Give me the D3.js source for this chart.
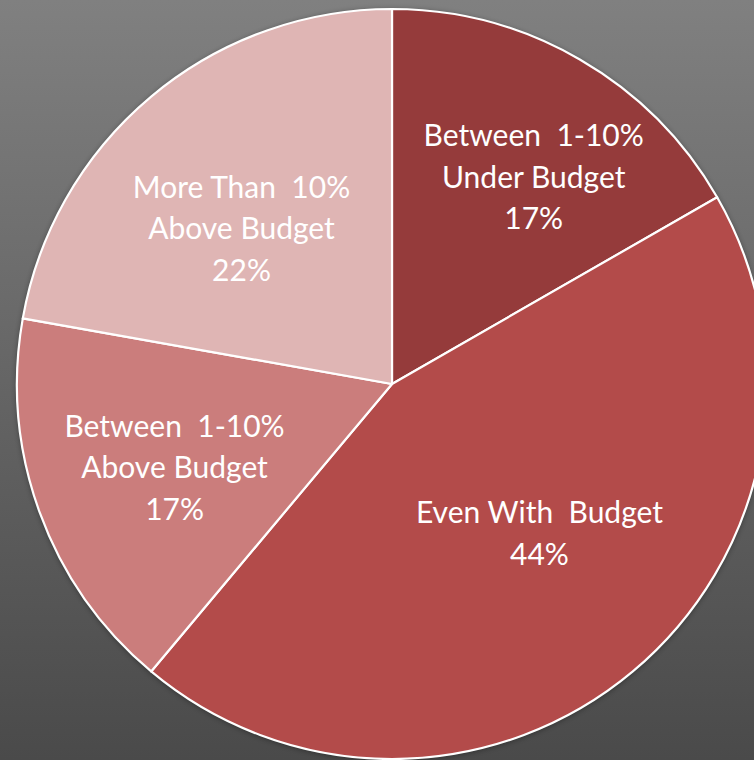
<!DOCTYPE html>
<html>
<head>
<meta charset="utf-8">
<script src="https://cdn.jsdelivr.net/npm/d3@7"></script>
<style>
  html, body { margin: 0; padding: 0; background: #666; }
  svg { display: block; }
</style>
</head>
<body>
<svg id="chart" width="754" height="760"></svg>
<script>
// Budget outcome shares (percent), clockwise from 12 o'clock
const categories = [
  ["Between  1-10%", "Under Budget"],
  ["Even With  Budget"],
  ["Between  1-10%", "Above Budget"],
  ["More Than  10%", "Above Budget"]
];
const shares = [16.7, 44.4, 16.7, 22.2];
const sliceColors = ["#953b3b", "#b34b4a", "#cb7d7c", "#dfb5b4"];

// fine placement of each label block relative to its slice centroid
const labelNudge = [[29, -12], [3, -23], [-6, 7], [-6, 17]];

const W = 754, H = 760;
const cx = 392, cy = 384, R = 375;

const svg = d3.select("#chart");
const defs = svg.append("defs");

const bg = defs.append("linearGradient")
  .attr("id", "bg").attr("x1", 0).attr("y1", 0).attr("x2", 0).attr("y2", 1);
bg.append("stop").attr("offset", "0%").attr("stop-color", "#808080");
bg.append("stop").attr("offset", "100%").attr("stop-color", "#4a4a4a");

const shadow = defs.append("filter").attr("id", "shadow")
  .attr("x", "-10%").attr("y", "-10%").attr("width", "120%").attr("height", "120%");
shadow.append("feDropShadow")
  .attr("dx", 0).attr("dy", 1).attr("stdDeviation", 3)
  .attr("flood-color", "#000").attr("flood-opacity", 0.45);

svg.append("rect").attr("width", W).attr("height", H).attr("fill", "url(#bg)");

const pie = d3.pie().sort(null).value(d => d);
const arcs = pie(shares);
const arc = d3.arc().innerRadius(0).outerRadius(R);
const labelArc = d3.arc().innerRadius(R * 0.6).outerRadius(R * 0.6);

const g = svg.append("g").attr("transform", `translate(${cx},${cy})`);

g.append("circle").attr("r", R).attr("fill", "#b34b4a").attr("filter", "url(#shadow)");

g.selectAll("path.slice")
  .data(arcs)
  .join("path")
  .attr("class", "slice")
  .attr("d", arc)
  .attr("fill", (d, i) => sliceColors[i])
  .attr("stroke", "#ffffff")
  .attr("stroke-width", 2.2)
  .attr("stroke-linejoin", "round");

const lineH = 41.5;
g.selectAll("text.lbl")
  .data(arcs)
  .join("text")
  .attr("class", "lbl")
  .attr("text-anchor", "middle")
  .attr("fill", "#ffffff")
  .style("font-family", "Lato, 'Open Sans', sans-serif")
  .style("font-size", "30px")
  .style("white-space", "pre")
  .each(function(d, i) {
    const [x, y] = labelArc.centroid(d);
    const lines = categories[i].concat([d3.format(".0f")(shares[i]) + "%"]);
    const n = lines.length;
    const x0 = x + labelNudge[i][0];
    const y0 = y + labelNudge[i][1] - (n - 1) * lineH / 2;
    d3.select(this).selectAll("tspan")
      .data(lines)
      .join("tspan")
      .attr("x", x0)
      .attr("y", (t, k) => y0 + k * lineH)
      .attr("dy", "0.35em")
      .text(t => t);
  });
</script>
</body>
</html>
